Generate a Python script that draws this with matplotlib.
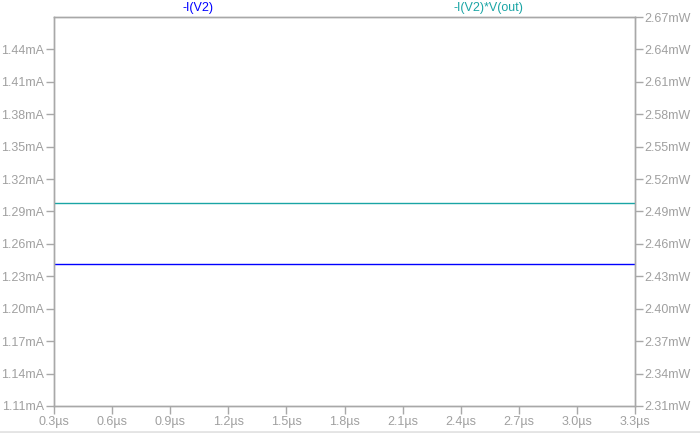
import matplotlib
matplotlib.use("Agg")
import matplotlib.pyplot as plt
from matplotlib.lines import Line2D

# data
time_us = [0.3, 3.3]
current_mA = [1.2411, 1.2411]      # -I(V2)
power_mW = [2.4976, 2.4976]        # -I(V2)*V(out)

x_ticks = [0.3, 0.6, 0.9, 1.2, 1.5, 1.8, 2.1, 2.4, 2.7, 3.0, 3.3]
left_ticks = [1.11, 1.14, 1.17, 1.20, 1.23, 1.26, 1.29, 1.32, 1.35, 1.38, 1.41, 1.44]
right_ticks = [2.31, 2.34, 2.37, 2.40, 2.43, 2.46, 2.49, 2.52, 2.55, 2.58, 2.61, 2.64, 2.67]

grey = "#a8a8a8"
txt = "#a0a0a0"
blue = "#0000ff"
teal = "#1aa5a5"

plt.rcParams['font.family'] = ['Liberation Sans', 'DejaVu Sans']

fig = plt.figure(figsize=(7, 4.33), dpi=100)
ax = fig.add_axes([54 / 700, 27 / 433, 581 / 700, 389 / 433])
ax2 = ax.twinx()

ax.plot(time_us, current_mA, color=blue, linewidth=1)
ax2.plot(time_us, power_mW, color=teal, linewidth=1)

ax.set_xlim(0.3, 3.3)
ax.set_ylim(1.11, 1.11 + 0.03 * 389 / 32.42)
ax2.set_ylim(2.31, 2.67)

ax.set_xticks(x_ticks)
ax.set_xticklabels(["%.1fµs" % v for v in x_ticks])
ax.set_yticks(left_ticks)
ax.set_yticklabels(["%.2fmA" % v for v in left_ticks])
ax2.set_yticks(right_ticks)
ax2.set_yticklabels(["%.2fmW" % v for v in right_ticks])

for a in (ax, ax2):
    for s in a.spines.values():
        s.set_color(grey)
        s.set_linewidth(1)
    a.tick_params(colors=grey, labelcolor=txt, labelsize=9, length=6,
                  width=1, pad=1, direction='out')

fig.text(198 / 700, 1 - 8 / 433, "-I(V2)", color=blue, ha='center',
         va='center', fontsize=9)
fig.text(488 / 700, 1 - 8 / 433, "-I(V2)*V(out)", color=teal, ha='center',
         va='center', fontsize=9)

fig.add_artist(Line2D([0, 1], [1.5 / 433, 1.5 / 433], color="#e4e4e4",
                      linewidth=2, transform=fig.transFigure))

fig.savefig("out.png", dpi=100)
